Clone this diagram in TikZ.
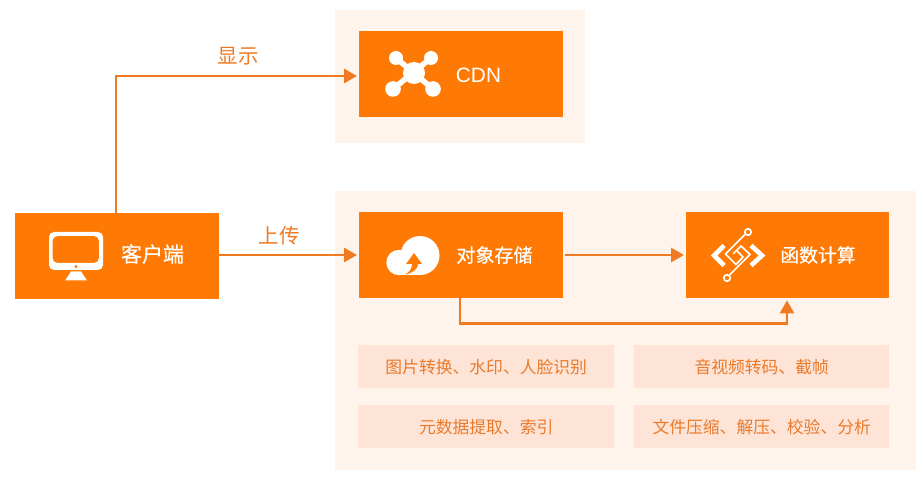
\documentclass[tikz,border=0pt]{standalone}
\usepackage{fontspec}
\setmainfont{Noto Sans CJK SC}
\newfontfamily\latinfont{Liberation Sans}
\newfontfamily\heavycjk[FakeBold=0.6]{Noto Sans CJK SC}
\usetikzlibrary{arrows.meta}
\definecolor{brand}{HTML}{FF7A05}
\definecolor{panelbg}{HTML}{FFF4EC}
\definecolor{chipbg}{HTML}{FDE4D7}
\definecolor{linecol}{HTML}{F07A22}
\definecolor{chiptext}{HTML}{EB7A2A}
\tikzset{
  x=1pt,y=-1pt,
  panel/.style={fill=panelbg,draw=none},
  tile/.style={fill=brand,draw=none,minimum height=86pt,inner sep=0pt,anchor=north west},
  chip/.style={fill=chipbg,draw=none,minimum height=43pt,inner sep=0pt,anchor=north west,text=chiptext,font=\fontsize{16.8}{20}\selectfont},
  tilelabel/.style={text=white,inner sep=0pt},
  flow/.style={draw=linecol,line width=2.9pt,shorten >=2pt,-{Triangle[length=13pt,width=14pt]}},
  flowlabel/.style={text=linecol,font=\fontsize{20.5}{24}\selectfont,inner sep=0pt},
}
\begin{document}
\begin{tikzpicture}
\useasboundingbox (0,0) rectangle (924,481);
\fill[white] (0,0) rectangle (924,481);
% background panels
\fill[panel] (335,10) rectangle (585,143);
\fill[panel] (335,191) rectangle (916,470);
% main boxes
\node[tile,minimum width=204pt] (client) at (15,213) {};
\node[tile,minimum width=204pt] (cdn) at (359,31) {};
\node[tile,minimum width=204pt] (oss) at (359,212) {};
\node[tile,minimum width=203pt] (fc) at (686,212) {};
% chips listing processing tasks
\node[chip,minimum width=256pt] (c1) at (358,345) {\raisebox{-1pt}{图片转换、水印、人脸识别}};
\node[chip,minimum width=255pt] (c2) at (634,345) {\raisebox{-1pt}{音视频转码、截帧}};
\node[chip,minimum width=256pt] (c3) at (358,405) {\raisebox{-1pt}{元数据提取、索引}};
\node[chip,minimum width=255pt] (c4) at (634,405) {\raisebox{-1pt}{文件压缩、解压、校验、分析}};
% titles
\node[tilelabel,font=\fontsize{20.8}{24}\selectfont\latinfont] (cdnt) at (478.5,75) {CDN};
\node[tilelabel,font=\fontsize{21}{24}\selectfont\heavycjk] (clientt) at (152.5,254) {客户端};
\node[tilelabel,font=\fontsize{19}{22}\selectfont\heavycjk] (osst) at (494.5,255) {对象存储};
\node[tilelabel,font=\fontsize{18.8}{22}\selectfont\heavycjk] (fct) at (818,255) {函数计算};
% connectors
\coordinate (elbow) at (116,76);
\draw[flow] (client.north west -| elbow) -- (elbow) -- (cdn.west |- elbow);
\draw[flow] (client.east |- 0,255) -- (oss.west |- 0,255);
\draw[flow,shorten <=2pt] (oss.east |- 0,255) -- (fc.west |- 0,255);
\coordinate (a) at (460,323.5);
\coordinate (b) at (787,323.5);
\draw[flow] (a |- oss.south) -- (a) -- (b) -- (b |- fc.south);
\node[flowlabel] (l1) at (238,56.5) {显示};
\node[flowlabel] (l2) at (279,235.5) {上传};
% monitor icon
\begin{scope}
\fill[white,even odd rule,rounded corners=5pt] (49,232) rectangle (103,270) (52.5,236) rectangle (99,263);
\fill[white] (71,271.5) -- (81,271.5) -- (87,280.5) -- (65,280.5) -- cycle;
\fill[brand] (76,266.5) circle (1.7);
\end{scope}
% network icon
\begin{scope}
\draw[white,line width=5.5pt] (396,58) -- (433,89) (431,58) -- (393,89);
\fill[white] (414,73) circle (11);
\fill[white] (396,58) circle (7) (431,58) circle (7) (393,89) circle (7.8) (433,89) circle (7.8);
\end{scope}
% cloud icon with upload arrow
\begin{scope}
\fill[white] (420,255.5) circle (19.5);
\fill[white] (399,262.5) circle (12.7);
\fill[white] (399,265) rectangle (420,275);
\fill[brand] (406,264) -- (414,253) -- (422,264) -- (418,264) .. controls (418,269) and (413,273) .. (405,274.5) .. controls (410,272) and (412,268) .. (412,264) -- cycle;
\end{scope}
% function icon: chevrons and circuit traces
\begin{scope}[white]
\draw[line width=4.6pt] (724,245.5) -- (714,255.5) -- (724,265.5);
\draw[line width=4.6pt] (751,245.5) -- (762,255.5) -- (751,265.5);
\draw[line width=1.7pt] (745.5,234) -- (725.5,254) -- (736,264.5) -- (743,257) -- (737,251);
\draw[line width=1.7pt] (729.5,275) -- (750,254.5) -- (741,246) -- (733,254);
\draw[line width=1.7pt,fill=brand] (748,232) circle (3.2);
\draw[line width=1.7pt,fill=brand] (727,278) circle (3.2);
\end{scope}
\end{tikzpicture}
\end{document}
